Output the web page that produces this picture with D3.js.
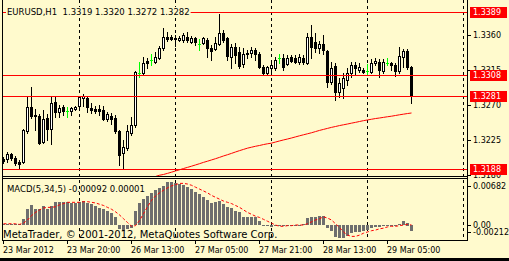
<!DOCTYPE html>
<html>
<head>
<meta charset="utf-8">
<script src="https://cdn.jsdelivr.net/npm/d3@7"></script>
<style>
  body { margin: 0; background: #fffacd; }
  svg text { font-family: "DejaVu Sans", sans-serif; }
</style>
</head>
<body>
<svg id="chart" width="509" height="261"></svg>
<script>
// --- data (EURUSD H1) ---
const opens  = [1.3201,1.3201,1.3207,1.3202,1.3197,1.3197,1.3237,1.3267,1.3257,1.3256,1.3223,1.3253,1.3239,1.3274,1.3261,1.3267,1.3262,1.3262,1.3265,1.3269,
                1.3279,1.3279,1.3266,1.3265,1.3265,1.3264,1.3252,1.3256,1.3253,1.3237,1.3209,1.3215,1.3234,1.3244,1.3311,1.3311,1.3326,1.3328,1.3325,1.3330,
                1.3343,1.3357,1.3357,1.3356,1.3353,1.3353,1.3357,1.3351,1.3356,1.3348,1.3349,1.3353,1.3343,1.3342,1.3348,1.3362,1.3356,1.3331,1.3344,1.3338,
                1.3322,1.3337,1.3337,1.3340,1.3335,1.3319,1.3311,1.3317,1.3317,1.3330,1.3330,1.3322,1.3331,1.3330,1.3325,1.3330,1.3324,1.3357,1.3351,1.3343,
                1.3348,1.3339,1.3299,1.3320,1.3287,1.3292,1.3302,1.3311,1.3321,1.3315,1.3315,1.3313,1.3312,1.3324,1.3325,1.3313,1.3324,1.3324,1.3321,1.3313,
                1.3331,1.3339,1.3319];
const highs  = [1.3203,1.3210,1.3209,1.3205,1.3200,1.3239,1.3280,1.3293,1.3265,1.3258,1.3264,1.3258,1.3280,1.3280,1.3270,1.3270,1.3267,1.3267,1.3269,1.3281,
                1.3284,1.3281,1.3273,1.3269,1.3270,1.3269,1.3261,1.3260,1.3257,1.3238,1.3225,1.3244,1.3255,1.3313,1.3325,1.3331,1.3330,1.3335,1.3338,1.3345,
                1.3368,1.3363,1.3360,1.3360,1.3358,1.3362,1.3363,1.3358,1.3357,1.3354,1.3357,1.3356,1.3347,1.3357,1.3386,1.3366,1.3357,1.3348,1.3349,1.3344,
                1.3343,1.3340,1.3344,1.3343,1.3338,1.3321,1.3320,1.3328,1.3331,1.3335,1.3335,1.3334,1.3334,1.3334,1.3335,1.3334,1.3362,1.3372,1.3362,1.3352,
                1.3360,1.3340,1.3325,1.3324,1.3305,1.3311,1.3317,1.3325,1.3325,1.3324,1.3317,1.3322,1.3329,1.3330,1.3329,1.3329,1.3330,1.3325,1.3324,1.3344,
                1.3342,1.3342,1.3320];
const lows   = [1.3196,1.3197,1.3200,1.3193,1.3189,1.3196,1.3234,1.3253,1.3238,1.3220,1.3221,1.3225,1.3220,1.3255,1.3255,1.3257,1.3255,1.3257,1.3264,1.3266,
                1.3269,1.3261,1.3260,1.3260,1.3257,1.3251,1.3249,1.3246,1.3234,1.3193,1.3188,1.3212,1.3232,1.3242,1.3306,1.3308,1.3317,1.3321,1.3324,1.3329,
                1.3340,1.3352,1.3353,1.3345,1.3352,1.3351,1.3351,1.3349,1.3347,1.3340,1.3348,1.3331,1.3328,1.3340,1.3347,1.3351,1.3328,1.3317,1.3324,1.3317,
                1.3319,1.3330,1.3331,1.3328,1.3317,1.3310,1.3310,1.3311,1.3315,1.3324,1.3315,1.3321,1.3325,1.3324,1.3322,1.3322,1.3322,1.3330,1.3338,1.3337,
                1.3335,1.3293,1.3297,1.3276,1.3280,1.3279,1.3296,1.3306,1.3308,1.3312,1.3311,1.3310,1.3311,1.3321,1.3306,1.3311,1.3321,1.3315,1.3307,1.3311,
                1.3319,1.3316,1.3272];
const closes = [1.3198,1.3207,1.3202,1.3196,1.3194,1.3238,1.3267,1.3256,1.3256,1.3221,1.3252,1.3239,1.3273,1.3261,1.3266,1.3262,1.3262,1.3266,1.3267,1.3280,
                1.3281,1.3267,1.3264,1.3262,1.3262,1.3252,1.3258,1.3252,1.3237,1.3206,1.3216,1.3237,1.3244,1.3312,1.3311,1.3324,1.3324,1.3328,1.3331,1.3343,
                1.3357,1.3354,1.3354,1.3354,1.3356,1.3360,1.3353,1.3356,1.3351,1.3348,1.3356,1.3343,1.3339,1.3349,1.3362,1.3353,1.3333,1.3344,1.3334,1.3320,
                1.3335,1.3335,1.3340,1.3335,1.3319,1.3311,1.3319,1.3321,1.3328,1.3330,1.3319,1.3330,1.3326,1.3325,1.3331,1.3325,1.3357,1.3344,1.3343,1.3348,
                1.3340,1.3299,1.3317,1.3287,1.3298,1.3305,1.3311,1.3321,1.3317,1.3319,1.3312,1.3313,1.3324,1.3326,1.3315,1.3325,1.3324,1.3321,1.3313,1.3333,
                1.3339,1.3319,1.3282];

// moving average (red), first visible value is bar maStart
const maStart = 30;
const maValues = [1.31676,1.31688,1.31701,1.31714,1.31727,1.31740,1.31752,1.31765,1.31784,1.31800,
                  1.31810,1.31824,1.31839,1.31855,1.31870,1.31886,1.31901,1.31916,1.31932,1.31948,
                  1.31965,1.31980,1.31996,1.32012,1.32029,1.32047,1.32063,1.32080,1.32098,1.32115,
                  1.32131,1.32147,1.32159,1.32171,1.32181,1.32193,1.32203,1.32211,1.32225,1.32239,
                  1.32252,1.32264,1.32277,1.32291,1.32305,1.32318,1.32331,1.32344,1.32359,1.32374,
                  1.32387,1.32400,1.32413,1.32424,1.32436,1.32446,1.32456,1.32467,1.32477,1.32488,
                  1.32499,1.32508,1.32517,1.32526,1.32533,1.32541,1.32549,1.32556,1.32565,1.32574,
                  1.32582,1.32590,1.32597];

const macdMain = [0.0002,0.0002,0.0002,0.0001,0.0001,0.0010,0.0026,0.0032,0.0026,0.0025,0.0030,0.0026,0.0030,0.0036,0.0036,0.0036,0.0036,0.0035,0.0035,0.0036,
                  0.0038,0.0035,0.0033,0.0030,0.0027,0.0025,0.0022,0.0019,0.0012,-0.0007,-0.0010,-0.0007,-0.0004,0.0022,0.0035,0.0042,0.0046,0.0051,0.0056,0.0059,
                  0.0062,0.0068,0.0068,0.0067,0.0065,0.0063,0.0060,0.0057,0.0053,0.0049,0.0045,0.0040,0.0035,0.0036,0.0038,0.0033,0.0029,0.0027,0.0022,0.0021,
                  0.0012,0.0012,0.0012,0.0012,0.0006,-0.0001,-0.0002,-0.0003,-0.0002,-0.0001,-0.0001,0.0000,0.0000,0.0000,0.0000,0.0001,0.0011,0.0013,0.0013,0.0014,
                  0.0014,-0.0004,-0.0010,-0.0019,-0.0021,-0.0021,-0.0017,-0.0013,-0.0011,-0.0011,-0.0010,-0.0008,-0.0005,-0.0003,-0.0003,-0.0002,-0.0001,-0.0001,-0.0001,0.0001,
                  0.0006,0.0004,-0.00092];
const macdSignal = [0.0002,0.0002,0.0002,0.0002,0.0001,0.0003,0.0008,0.0015,0.0020,0.0024,0.0027,0.0028,0.0028,0.0029,0.0032,0.0034,0.0036,0.0036,0.0036,0.0036,
                    0.0037,0.0037,0.0036,0.0035,0.0033,0.0031,0.0028,0.0025,0.0021,0.0016,0.0010,0.0004,-0.0002,-0.0001,0.0007,0.0018,0.0029,0.0039,0.0046,0.0051,
                    0.0055,0.0059,0.0062,0.0064,0.0066,0.0066,0.0065,0.0063,0.0060,0.0057,0.0054,0.0051,0.0047,0.0044,0.0041,0.0038,0.0036,0.0034,0.0031,0.0028,
                    0.0024,0.0020,0.0017,0.0014,0.0012,0.0009,0.0006,0.0003,0.0000,-0.0002,-0.0002,-0.0001,-0.0001,0.0000,0.0000,0.0000,0.0002,0.0005,0.0008,0.0010,
                    0.0013,0.0011,0.0008,0.0002,-0.0004,-0.0011,-0.0016,-0.0018,-0.0018,-0.0016,-0.0013,-0.0011,-0.0009,-0.0008,-0.0006,-0.0005,-0.0003,-0.0002,-0.0002,-0.0001,
                    0.0000,0.0001,0.00001];

const timeLabels = ["23 Mar 2012", "23 Mar 20:00", "26 Mar 13:00", "27 Mar 05:00", "27 Mar 21:00", "28 Mar 13:00", "29 Mar 05:00"];
const timeLabelBars = [0, 16, 32, 48, 64, 80, 96];
const daySeparatorBars = [19, 43, 67, 91, 115];
const priceTicks = [1.3360, 1.3315, 1.3270, 1.3225, 1.3180];
const levelLines = [1.3389, 1.3308, 1.3281, 1.3188];
const macdLabels = [0.00682, 0.00, -0.00212];
const headerText = "EURUSD,H1  1.3319 1.3320 1.3272 1.3282";
const macdText = "MACD(5,34,5) -0.00092 0.00001";
const copyrightText = "MetaTrader, \u00a9 2001-2012, MetaQuotes Software Corp.";

// --- layout ---
const W = 509, H = 261;
const bg = "#fffacd";
const plotLeft = 2, plotRight = 467;
const mainTop = 0, mainBottom = 176;
const subTop = 179, subBottom = 240;

const svg = d3.select("#chart");
svg.append("rect").attr("width", W).attr("height", H).attr("fill", bg);

const x = d3.scaleLinear().domain([0, 116]).range([3, 467]);
const y = d3.scaleLinear().domain([1.3188, 1.3389]).range([169, 12]);
const ym = d3.scaleLinear().domain([-0.00212, 0.00682]).range([238.4, 182]);

const bars = opens.map((o, i) => ({ i, o, h: highs[i], l: lows[i], c: closes[i] }));

svg.append("defs").append("clipPath").attr("id", "clipMain")
    .append("rect").attr("x", plotLeft).attr("y", mainTop).attr("width", plotRight - plotLeft).attr("height", mainBottom - mainTop);

const px = v => Math.round(v);

// day separators
const sep = svg.append("g").attr("stroke", "#000").attr("stroke-dasharray", "3,3").attr("shape-rendering", "crispEdges");
daySeparatorBars.forEach(b => {
    sep.append("line").attr("x1", px(x(b)) + 0.5).attr("x2", px(x(b)) + 0.5)
        .attr("y1", mainTop).attr("y2", subBottom);
});

// moving average
const maLine = d3.line().x((d, k) => x(maStart + k) + 0.5).y(d => y(d));
svg.append("path").datum(maValues)
    .attr("clip-path", "url(#clipMain)")
    .attr("d", maLine).attr("fill", "none").attr("stroke", "#ff0000").attr("stroke-width", 1);

// candles
const cg = svg.append("g").attr("clip-path", "url(#clipMain)").attr("shape-rendering", "crispEdges");
bars.forEach(d => {
    const cx = px(x(d.i));
    const doji = d.o === d.c;
    const col = doji ? "#00ff00" : "#000";
    cg.append("line").attr("x1", cx + 0.5).attr("x2", cx + 0.5)
        .attr("y1", px(y(d.h))).attr("y2", px(y(d.l)) + 1).attr("stroke", col);
    const top = px(y(Math.max(d.o, d.c))), bot = px(y(Math.min(d.o, d.c)));
    if (doji) {
        cg.append("line").attr("x1", cx - 1).attr("x2", cx + 2)
            .attr("y1", top + 0.5).attr("y2", top + 0.5).attr("stroke", col);
    } else if (d.c > d.o) {
        cg.append("rect").attr("x", cx - 0.5).attr("y", top + 0.5)
            .attr("width", 2).attr("height", Math.max(bot - top, 1))
            .attr("fill", "#fff").attr("stroke", "#000");
    } else {
        cg.append("rect").attr("x", cx - 1).attr("y", top)
            .attr("width", 3).attr("height", Math.max(bot - top + 1, 1)).attr("fill", "#000");
    }
});

// level lines (drawn over the candles)
const lv = svg.append("g").attr("stroke", "#ff0000").attr("shape-rendering", "crispEdges");
levelLines.forEach(p => {
    lv.append("line").attr("x1", plotLeft).attr("x2", plotRight)
        .attr("y1", px(y(p)) + 0.5).attr("y2", px(y(p)) + 0.5);
});

// header text with background
const hdr = svg.append("text").attr("x", 7).attr("y", 15).attr("font-size", 8.5).attr("fill", "#000")
    .attr("xml:space", "preserve").style("white-space", "pre").text(headerText);
const hb = hdr.node().getBBox();
svg.insert("rect", "text").attr("x", hb.x - 1).attr("y", hb.y).attr("width", hb.width + 2).attr("height", hb.height).attr("fill", bg);

// --- MACD pane ---
const mg = svg.append("g").attr("shape-rendering", "crispEdges");
mg.selectAll("rect").data(macdMain).join("rect")
    .attr("x", (d, i) => px(x(i)) - 1)
    .attr("y", d => px(Math.min(ym(d), ym(0))))
    .attr("width", 3)
    .attr("height", d => Math.max(1, px(Math.abs(ym(d) - ym(0)))))
    .attr("fill", "#6e6e6e");

const sigLine = d3.line().x((d, i) => x(i) + 0.5).y(d => ym(d));
svg.append("path").datum(macdSignal).attr("d", sigLine)
    .attr("fill", "none").attr("stroke", "#ff0000").attr("stroke-width", 1).attr("stroke-dasharray", "3,2");

svg.append("text").attr("x", 7).attr("y", 192).attr("font-size", 8.5).attr("fill", "#000").text(macdText);
svg.append("text").attr("x", 3).attr("y", 238).attr("font-size", 10).attr("fill", "#000").text(copyrightText);

// frames
const fr = svg.append("g").attr("stroke", "#000").attr("shape-rendering", "crispEdges");
fr.append("line").attr("x1", plotLeft + 0.5).attr("x2", plotLeft + 0.5).attr("y1", 0).attr("y2", subBottom + 1);
fr.append("line").attr("x1", plotRight + 0.5).attr("x2", plotRight + 0.5).attr("y1", 0).attr("y2", subBottom + 1);
fr.append("line").attr("x1", plotLeft).attr("x2", plotRight + 1).attr("y1", mainBottom + 0.5).attr("y2", mainBottom + 0.5);
fr.append("line").attr("x1", plotLeft).attr("x2", plotRight + 1).attr("y1", subTop - 0.5).attr("y2", subTop - 0.5);
fr.append("line").attr("x1", plotLeft).attr("x2", plotRight + 1).attr("y1", subBottom + 0.5).attr("y2", subBottom + 0.5);
svg.append("rect").attr("x", 0).attr("y", 258).attr("width", W).attr("height", 3).attr("fill", "#000");

// price axis
const pa = svg.append("g");
priceTicks.forEach(p => {
    const yy = px(y(p));
    pa.append("line").attr("x1", plotRight).attr("x2", plotRight + 4).attr("y1", yy + 0.5).attr("y2", yy + 0.5)
        .attr("stroke", "#000").attr("shape-rendering", "crispEdges");
    pa.append("text").attr("x", 473).attr("y", yy + 3).attr("font-size", 8).text(p.toFixed(4));
});
levelLines.forEach(p => {
    const yy = px(y(p));
    pa.append("rect").attr("x", 470).attr("y", yy - 5).attr("width", 37).attr("height", 11).attr("fill", "#ff0000");
    pa.append("text").attr("x", 473).attr("y", yy + 3).attr("font-size", 8).attr("fill", "#fff").text(p.toFixed(4));
});

// MACD axis labels
const mlabY = [ym(macdLabels[0]) + 4, ym(macdLabels[1]), ym(macdLabels[2]) - 6];
macdLabels.forEach((v, k) => {
    const yy = px(mlabY[k]);
    pa.append("line").attr("x1", plotRight).attr("x2", plotRight + 4).attr("y1", yy + 0.5).attr("y2", yy + 0.5)
        .attr("stroke", "#000").attr("shape-rendering", "crispEdges");
    pa.append("text").attr("x", 473).attr("y", yy + 3).attr("font-size", 8)
        .text(v === 0 ? "0.00" : v.toFixed(5));
});

// time axis
const ta = svg.append("g");
timeLabelBars.forEach((b, k) => {
    const xx = px(x(b));
    ta.append("line").attr("x1", xx + 0.5).attr("x2", xx + 0.5).attr("y1", subBottom).attr("y2", subBottom + 4)
        .attr("stroke", "#000").attr("shape-rendering", "crispEdges");
    ta.append("text").attr("x", xx).attr("y", 253).attr("font-size", 8).text(timeLabels[k]);
});
</script>
</body>
</html>
